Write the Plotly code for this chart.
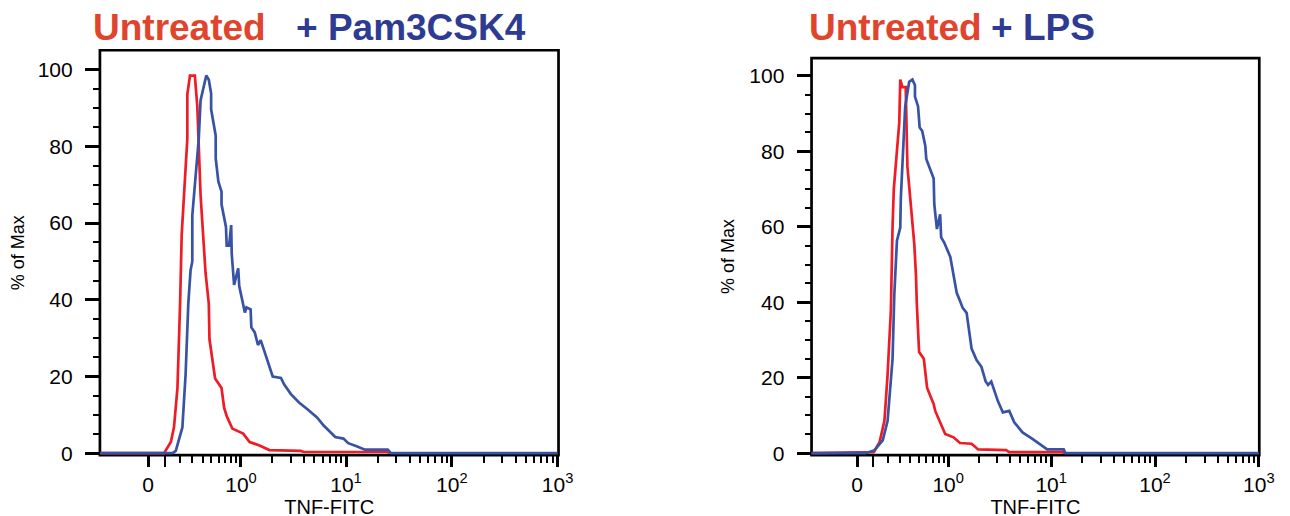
import numpy as np
import plotly.graph_objects as go

# ---------------- data (TNF-FITC intensity, % of Max) ----------------
pam_untreated_x = [-0.35, 0.095, 0.139, 0.160, 0.184, 0.195, 0.203, 0.215, 0.259, 0.259, 0.281, 0.324,
                   0.347, 0.379, 0.414, 0.432, 0.469, 0.477, 0.548, 0.639, 0.680, 0.721, 0.821, 1.05,
                   1.215, 1.51, 1.88, 3.72, 4.0, 24.8, 26]
pam_untreated_y = [0, 0, 2.9, 6.8, 17, 29, 39, 57, 82, 93.6, 98.5, 98.5,
                   90.5, 67.4, 54.6, 47, 39, 29.7, 19.5, 17, 11.8, 9.7, 6.4, 5.1,
                   2.9, 2.0, 0.8, 0.6, 0.3, 0.3, 0]

pam_treated_x = [-0.35, 0.15, 0.172, 0.195, 0.220, 0.245, 0.259, 0.267, 0.286, 0.301, 0.301, 0.361,
                 0.379, 0.414, 0.440, 0.469, 0.497, 0.497, 0.556, 0.556, 0.593, 0.639, 0.639, 0.709,
                 0.721, 0.762, 0.800, 0.810, 0.855, 0.939, 0.961, 1.05, 1.09, 1.13, 1.24, 1.26,
                 1.36, 1.46, 1.55, 1.69, 2.02, 2.42, 2.60, 3.01, 3.59, 4.29, 5.32, 6.15,
                 7.10, 7.91, 9.45, 10.5, 12.6, 15.1, 24.8, 26.6, 1000]
pam_treated_y = [0, 0, 0.6, 3.3, 6.7, 20.5, 34, 39, 47.7, 50, 62, 82,
                 92, 96.4, 98.5, 97.4, 93.8, 89.7, 82.8, 76.9, 70.8, 68.2, 64.9, 59,
                 54.1, 54.1, 59.5, 52, 43.9, 48.2, 43.6, 38.8, 36.7, 38, 37.5, 32.8,
                 31.5, 28.2, 29.5, 26.4, 20, 19.6, 17.9, 15.4, 13.2, 11.5, 9.3, 7.2,
                 5.5, 4.2, 3.8, 2.6, 1.8, 0.9, 0.9, 0, 0]

lps_untreated_x = [-0.35, 0.103, 0.14, 0.174, 0.197, 0.222, 0.235, 0.245, 0.291, 0.300, 0.32, 0.351,
                   0.368, 0.402, 0.442, 0.462, 0.471, 0.50, 0.562, 0.61, 0.713, 0.74, 0.864, 0.934,
                   1.13, 1.31, 1.70, 1.97, 3.67, 3.94, 12.8, 13.5]
lps_untreated_y = [0, 0.3, 2.9, 8.6, 20.8, 38, 60, 70, 87.6, 99, 97, 97,
                   76, 66, 55.5, 47, 40, 26.8, 25, 17.3, 13, 11.2, 6.9, 5.1,
                   4.2, 2.7, 2.5, 1, 0.8, 0.3, 0.3, 0]

lps_treated_x = [-0.35, 0.05, 0.107, 0.162, 0.197, 0.235, 0.249, 0.271, 0.300, 0.305, 0.346, 0.386,
                 0.421, 0.450, 0.450, 0.487, 0.507, 0.54, 0.583, 0.597, 0.713, 0.724, 0.77, 0.83,
                 0.85, 0.91, 1.05, 1.13, 1.215, 1.31, 1.39, 1.52, 1.70, 1.90, 2.12, 2.33,
                 2.46, 2.64, 3.06, 3.42, 3.94, 4.40, 5.29, 6.59, 7.90, 9.15, 13.2, 13.7, 1000]
lps_treated_y = [0, 0, 0.8, 3.4, 8.6, 25, 42, 56.3, 59.8, 67.6, 91.9, 98.4,
                 99, 97.5, 94.5, 91.9, 86.3, 85.4, 81.5, 78, 72.8, 65.9, 59.4, 63.3,
                 57.2, 55.9, 52, 46.8, 42.5, 40.3, 38.5, 37.2, 27.7, 24.7, 22.9, 19,
                 18.1, 19, 13.8, 10.8, 11.2, 8.2, 5.5, 3.8, 2.3, 1, 1, 0, 0]

x_major_vals = [0, 1, 10, 100, 1000]
x_major_text = ["0", "10<sup>0</sup>", "10<sup>1</sup>", "10<sup>2</sup>", "10<sup>3</sup>"]
x_long_vals = [0.1]
x_minor_vals = [0.2, 0.3, 0.4, 0.5, 0.6, 0.7, 0.8, 0.9,
                2, 3, 4, 5, 6, 7, 8, 9,
                20, 30, 40, 50, 60, 70, 80, 90,
                200, 300, 400, 500, 600, 700, 800, 900]
y_major_vals = [0, 20, 40, 60, 80, 100]
y_minor_vals = [5, 10, 15, 25, 30, 35, 45, 50, 55, 65, 70, 75, 85, 90, 95]

# --------------- biexponential-like display transform ----------------
C = 0.27
def biex(v):
    return [float(t) for t in np.arcsinh(np.asarray(v, dtype=float) / C)]

W, H = 1290, 516
RED_LINE = "#ee1c25"
BLUE_LINE = "#3953a4"
RED_TXT = "#e1442c"
BLUE_TXT = "#2e3b93"
FONT = "Liberation Sans, Arial, Helvetica, sans-serif"

fig = go.Figure()
panels = [
    ("x", "y", pam_untreated_x, pam_untreated_y, pam_treated_x, pam_treated_y),
    ("x2", "y2", lps_untreated_x, lps_untreated_y, lps_treated_x, lps_treated_y),
]
for xa, ya, rx, ry, bx, by in panels:
    fig.add_trace(go.Scatter(x=biex(rx), y=ry, xaxis=xa, yaxis=ya, mode="lines",
                             line=dict(color=RED_LINE, width=2.7), showlegend=False, hoverinfo="skip"))
    fig.add_trace(go.Scatter(x=biex(bx), y=by, xaxis=xa, yaxis=ya, mode="lines",
                             line=dict(color=BLUE_LINE, width=2.7), showlegend=False, hoverinfo="skip"))

XR1, XR2 = [-1.05, 8.93], [-1.01, 8.92]
YR1, YR2 = [-0.5, 105.1], [-0.5, 104.7]

def xaxis_cfg(domain, rng, anchor):
    return dict(domain=domain, range=rng, anchor=anchor, tickmode="array", tickvals=biex(x_major_vals),
                ticktext=x_major_text, ticks="outside", ticklen=11, tickwidth=2.6, tickcolor="black",
                showline=False, showgrid=False, zeroline=False, ticklabelstandoff=0,
                tickfont=dict(family=FONT, size=21, color="black"),
                title=dict(text="TNF-FITC", font=dict(family=FONT, size=20, color="black"), standoff=0))

def xtick_overlay(over, rng, anchor, vals, length):
    return dict(overlaying=over, range=rng, anchor=anchor, tickmode="array", tickvals=biex(vals),
                ticks="outside", ticklen=length, tickwidth=2.4, tickcolor="black", showticklabels=False,
                showline=False, showgrid=False, zeroline=False)

def yaxis_cfg(domain, rng, anchor):
    return dict(domain=domain, range=rng, anchor=anchor, tickmode="array", tickvals=y_major_vals,
                ticks="outside", ticklen=14, tickwidth=2.6, tickcolor="black",
                showline=False, showgrid=False, zeroline=False, ticklabelstandoff=8,
                tickfont=dict(family=FONT, size=21, color="black"),
                title=dict(text="% of Max", font=dict(family=FONT, size=18, color="black"), standoff=9))

def yminor_cfg(over, rng, anchor):
    return dict(overlaying=over, range=rng, anchor=anchor, tickmode="array", tickvals=y_minor_vals,
                ticks="outside", ticklen=6, tickwidth=2.4, tickcolor="black", showticklabels=False,
                showline=False, showgrid=False, zeroline=False)

fig.update_layout(
    width=W, height=H, margin=dict(l=0, r=0, t=0, b=0),
    paper_bgcolor="white", plot_bgcolor="white",
    xaxis=xaxis_cfg([93 / W, 557 / W], XR1, "y"),
    yaxis=yaxis_cfg([1 - 455 / H, 1 - 43 / H], YR1, "x"),
    xaxis2=xaxis_cfg([813 / W, 1266 / W], XR2, "y2"),
    yaxis2=yaxis_cfg([1 - 455 / H, 1 - 51 / H], YR2, "x2"),
    xaxis3=xtick_overlay("x", XR1, "y", x_minor_vals, 7),
    yaxis3=yminor_cfg("y", YR1, "x"),
    xaxis4=xtick_overlay("x2", XR2, "y2", x_minor_vals, 7),
    yaxis4=yminor_cfg("y2", YR2, "x2"),
    xaxis5=xtick_overlay("x", XR1, "y", x_long_vals, 11),
    xaxis6=xtick_overlay("x2", XR2, "y2", x_long_vals, 11),
)

# empty traces so the tick overlay axes get drawn
for xa, ya in [("x3", "y3"), ("x4", "y4"), ("x5", "y"), ("x6", "y2")]:
    fig.add_trace(go.Scatter(x=[None], y=[None], xaxis=xa, yaxis=ya, mode="lines",
                             showlegend=False, hoverinfo="skip"))

# panel frames (plot-area border)
for xr, yr in [("x domain", "y domain"), ("x2 domain", "y2 domain")]:
    fig.add_shape(type="rect", xref=xr, yref=yr, x0=0, x1=1, y0=0, y1=1,
                  line=dict(color="black", width=2.7), fillcolor="rgba(0,0,0,0)", layer="below")

def title_piece(text, xpx, color):
    fig.add_annotation(text="<b>" + text + "</b>", xref="paper", yref="paper",
                       x=xpx / W, y=1, yshift=2, xanchor="left", yanchor="top", height=38,
                       showarrow=False, font=dict(family=FONT, size=37, color=color))

title_piece("Untreated", 84, RED_TXT)
title_piece("+ Pam3CSK4", 289, BLUE_TXT)
title_piece("Untreated", 808, RED_TXT)
title_piece("+ LPS", 993, BLUE_TXT)

fig.write_html("out.html")
